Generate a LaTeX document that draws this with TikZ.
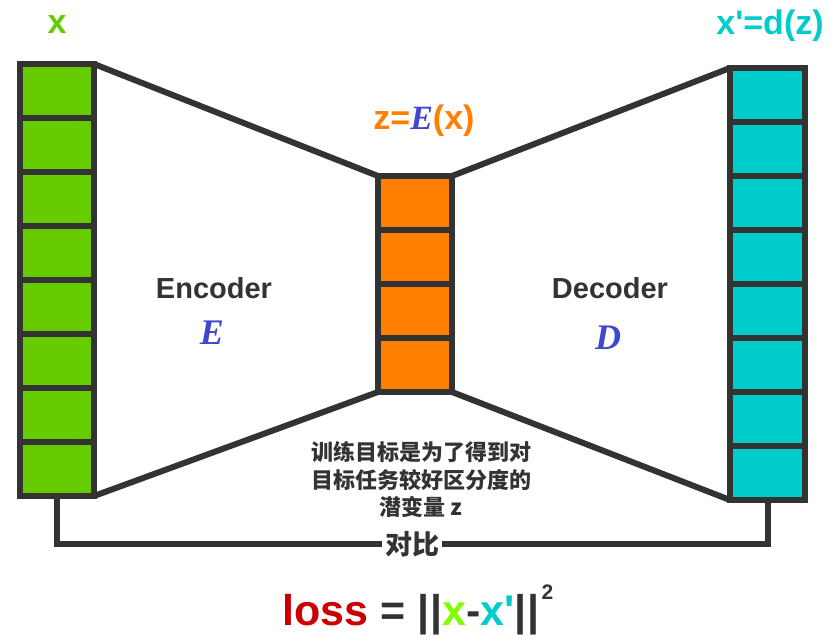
\documentclass[tikz,border=0pt]{standalone}
\usepackage{fontspec}
\setmainfont{Liberation Sans}
\newfontfamily\cjk{Noto Sans CJK SC}
\newfontfamily\tms{Liberation Serif}
\definecolor{dark}{HTML}{333333}
\definecolor{xgreen}{HTML}{66CC00}
\definecolor{xcyan}{HTML}{00CCCC}
\definecolor{zorange}{HTML}{FF8000}
\definecolor{eblue}{HTML}{3F48CC}
\definecolor{lossred}{HTML}{CC0000}
\definecolor{lime}{HTML}{80FF00}
\newcommand{\fs}[1]{\fontsize{#1}{#1}\selectfont}
\begin{document}
\begin{tikzpicture}[x=1pt,y=-1pt,
  cellbox/.style={draw=dark, line width=6pt, minimum width=74pt, minimum height=54pt, inner sep=0pt, outer sep=0pt},
  conn/.style={draw=dark, line width=6pt},
  lbl/.style={inner sep=0pt, font=\bfseries},
  cjklbl/.style={inner sep=0pt, text=dark, font=\cjk\bfseries}]
\useasboundingbox (0,0) rectangle (837,644);
% columns
\foreach \i in {1,...,8} \node[cellbox, fill=xgreen] (L\i) at (57, 37+54*\i) {};
\foreach \i in {1,...,8} \node[cellbox, fill=xcyan, minimum width=75pt] (R\i) at (767.5, 41+54*\i) {};
\foreach \i in {1,...,4} \node[cellbox, fill=zorange] (O\i) at (415, 149+54*\i) {};
% funnel lines
\draw[conn] (L1.north east) -- (O1.north west);
\draw[conn] (O1.north east) -- (R1.north west);
\draw[conn] (L8.south east) -- (O4.south west);
\draw[conn] (O4.south east) -- (R8.south west);
% comparison connector
\coordinate (bl) at (57,544);
\coordinate (br) at (767.5,544);
\draw[conn] (L8.south) -- (bl) -- node[cjklbl, fill=white, inner xsep=3pt, inner ysep=2pt, font=\cjk\bfseries\fs{27}] (cmp) {对比} (br) -- (R8.south);
% labels
\node[lbl, text=xgreen, font=\bfseries\fs{34}] (xl) at (57,25) {x};
\node[lbl, text=xcyan, font=\bfseries\fs{34}] (xpl) at (770,26) {x\textquotesingle=d(z)};
\node[lbl, text=zorange, font=\bfseries\fs{34}] (zl) at (424,121) {z={\tms\bfseries\itshape\color{eblue}E}(x)};
\node[lbl, text=dark, font=\bfseries\fs{29}] (enc) at (214,288) {Encoder};
\node[lbl, text=eblue, font=\tms\bfseries\itshape\fs{36}] (encE) at (212,333) {E};
\node[lbl, text=dark, font=\bfseries\fs{29}] (dec) at (610,288) {Decoder};
\node[lbl, text=eblue, font=\tms\bfseries\itshape\fs{36}] (decD) at (608,338) {D};
\node[cjklbl, align=center, font=\cjk\bfseries\fontsize{22}{27.5}\selectfont] (goal) at (421,480) {训练目标是为了得到对\\目标任务较好区分度的\\潜变量 z};
\node[lbl, anchor=base west, text=dark, font=\bfseries\fs{43}] (loss) at (282,625)
  {\color{lossred}loss \color{dark}= |\kern1pt|\color{lime}x\color{dark}-\color{xcyan}x\textquotesingle\color{dark}|\kern1pt|\kern2pt\raisebox{26pt}{\fs{21}2}};
\end{tikzpicture}
\end{document}
